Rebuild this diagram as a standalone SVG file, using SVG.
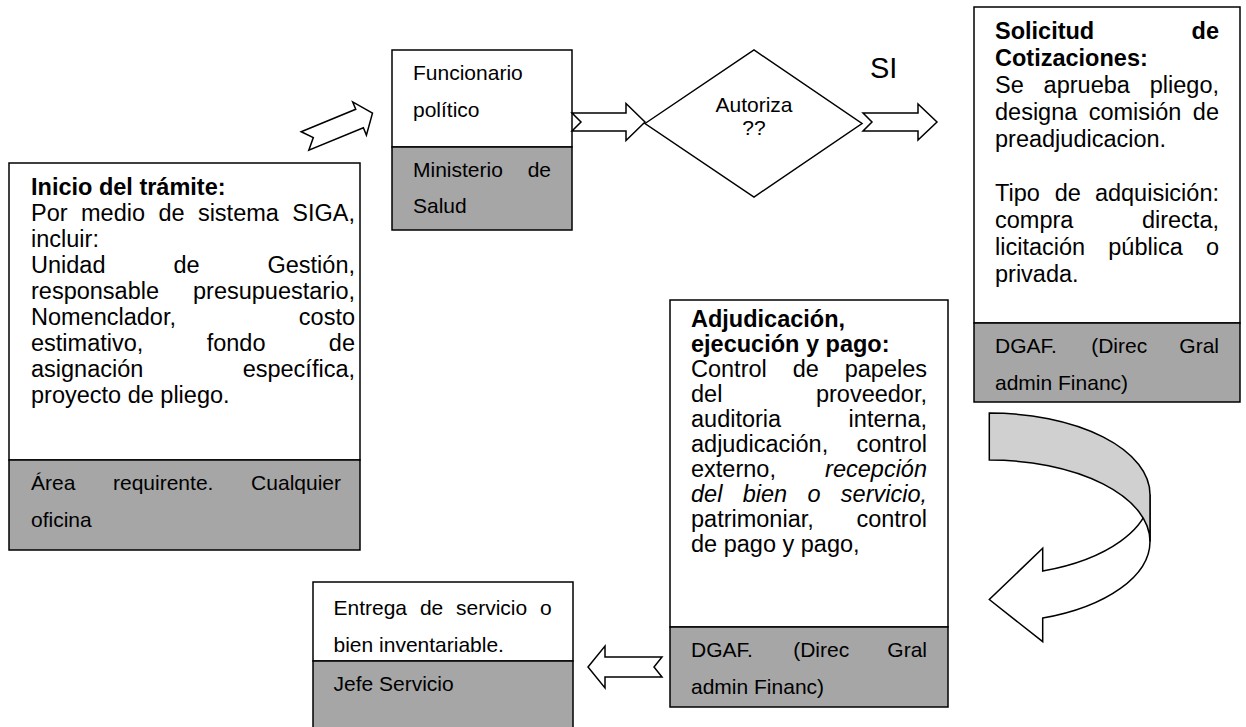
<svg xmlns="http://www.w3.org/2000/svg" width="1246" height="727" viewBox="0 0 1246 727">
<style>
.w{fill:#fff;stroke:#000;stroke-width:1.5}
.g{fill:#a6a6a6;stroke:#000;stroke-width:1.5}
.t{font-family:"Liberation Sans",Arial,sans-serif;font-size:23.5px;fill:#000}
.s{font-size:21px}
.b{font-weight:bold}
.i{font-style:italic}
.e{text-anchor:end}
.m{text-anchor:middle}
.ar{fill:#fff;stroke:#000;stroke-width:1.5;stroke-linejoin:miter}
</style>
<rect width="1246" height="727" fill="#fff"/>

<g id="inicio">
<rect class="w" x="9" y="163" width="351" height="297"/>
<rect class="g" x="9" y="460" width="351" height="90"/>
<text class="t b" x="31" y="195">Inicio del trámite:</text>
<text class="t" y="221"><tspan x="31">Por</tspan><tspan x="81">medio</tspan><tspan x="158.4">de</tspan><tspan x="197.9">sistema</tspan></text>
<text class="t e" x="355" y="221">SIGA,</text>
<text class="t" x="31" y="247">incluir:</text>
<text class="t" y="273"><tspan x="31">Unidad</tspan><tspan x="173.4">de</tspan></text>
<text class="t e" x="355" y="273">Gestión,</text>
<text class="t" x="31" y="299">responsable</text>
<text class="t e" x="355" y="299">presupuestario,</text>
<text class="t" x="31" y="325">Nomenclador,</text>
<text class="t e" x="355" y="325">costo</text>
<text class="t" y="351"><tspan x="31">estimativo,</tspan><tspan x="206.7">fondo</tspan></text>
<text class="t e" x="355" y="351">de</text>
<text class="t" x="31" y="377">asignación</text>
<text class="t e" x="355" y="377">específica,</text>
<text class="t" x="31" y="403">proyecto de pliego.</text>
<text class="t s" y="490"><tspan x="31">Área</tspan><tspan x="113">requirente.</tspan></text>
<text class="t s e" x="341" y="490">Cualquier</text>
<text class="t s" x="31" y="527">oficina</text>
</g>

<g id="funcionario">
<rect class="w" x="392" y="50" width="180" height="97"/>
<rect class="g" x="392" y="147" width="180" height="83"/>
<text class="t s" x="413" y="80">Funcionario</text>
<text class="t s" x="413" y="117">político</text>
<text class="t s" x="413" y="177">Ministerio</text>
<text class="t s e" x="551" y="177">de</text>
<text class="t s" x="413" y="213">Salud</text>
</g>

<g id="autoriza">
<polygon class="w" points="645,123.5 754,50 862,123.5 754,197"/>
<text class="t s m" x="754" y="112">Autoriza</text>
<text class="t s m" x="754" y="135">??</text>
</g>

<g id="solicitud">
<rect class="w" x="974" y="7" width="266" height="316"/>
<rect class="g" x="974" y="323" width="266" height="79"/>
<text class="t b" x="995" y="39">Solicitud</text>
<text class="t b e" x="1219" y="39">de</text>
<text class="t b" x="995" y="66">Cotizaciones:</text>
<text class="t" y="93"><tspan x="995">Se</tspan><tspan x="1043.6">aprueba</tspan></text>
<text class="t e" x="1219" y="93">pliego,</text>
<text class="t" y="120"><tspan x="995">designa</tspan><tspan x="1088.7">comisión</tspan></text>
<text class="t e" x="1219" y="120">de</text>
<text class="t" x="995" y="147">preadjudicacion.</text>
<text class="t" y="201"><tspan x="995">Tipo</tspan><tspan x="1054.8">de</tspan></text>
<text class="t e" x="1219" y="201">adquisición:</text>
<text class="t" x="995" y="228">compra</text>
<text class="t e" x="1219" y="228">directa,</text>
<text class="t" y="255"><tspan x="995">licitación</tspan><tspan x="1108.3">pública</tspan></text>
<text class="t e" x="1219" y="255">o</text>
<text class="t" x="995" y="282">privada.</text>
<text class="t s" y="353"><tspan x="995">DGAF.</tspan><tspan x="1091.2">(Direc</tspan></text>
<text class="t s e" x="1219" y="353">Gral</text>
<text class="t s" x="995" y="390">admin Financ)</text>
</g>

<g id="adjudicacion">
<rect class="w" x="670" y="300" width="278" height="327"/>
<rect class="g" x="670" y="627" width="278" height="80"/>
<text class="t b" x="691" y="327">Adjudicación,</text>
<text class="t b" x="691" y="352">ejecución y pago:</text>
<text class="t" y="377"><tspan x="691">Control</tspan><tspan x="792.7">de</tspan></text>
<text class="t e" x="927" y="377">papeles</text>
<text class="t" x="691" y="402">del</text>
<text class="t e" x="927" y="402">proveedor,</text>
<text class="t" x="691" y="427">auditoria</text>
<text class="t e" x="927" y="427">interna,</text>
<text class="t" x="691" y="452">adjudicación,</text>
<text class="t e" x="927" y="452">control</text>
<text class="t" x="691" y="477">externo,</text>
<text class="t i e" x="927" y="477">recepción</text>
<text class="t i" y="502"><tspan x="691">del</tspan><tspan x="742.7">bien</tspan><tspan x="807.4">o</tspan></text>
<text class="t i e" x="927" y="502">servicio,</text>
<text class="t" x="691" y="527">patrimoniar,</text>
<text class="t e" x="927" y="527">control</text>
<text class="t" x="691" y="552">de pago y pago,</text>
<text class="t s" y="657"><tspan x="691">DGAF.</tspan><tspan x="793.2">(Direc</tspan></text>
<text class="t s e" x="927" y="657">Gral</text>
<text class="t s" x="691" y="694">admin Financ)</text>
</g>

<g id="entrega">
<rect class="w" x="313" y="582" width="260" height="79"/>
<rect class="g" x="313" y="661" width="260" height="80"/>
<text class="t s" y="615"><tspan x="333.5">Entrega</tspan><tspan x="419.9">de</tspan><tspan x="456">servicio</tspan></text>
<text class="t s e" x="551.7" y="615">o</text>
<text class="t s" x="333.5" y="652">bien inventariable.</text>
<text class="t s" x="333.5" y="691">Jefe Servicio</text>
</g>

<g id="connectors">
<polygon class="ar" transform="translate(305,141) rotate(-22.4)" points="0,-10 59,-10 59,-18 73,0 59,18 59,10 0,10 9,0"/>
<polygon class="ar" points="572,113 626,113 626,103.5 645,122 626,140.5 626,131 572,131 581,122"/>
<polygon class="ar" points="863,113 918,113 918,104 937,122 918,140 918,131 863,131 872,122"/>
<text class="t" x="870" y="78" style="font-size:29px">SI</text>
<path class="ar" d="M1150,494.4 A161,81.4 0 0 1 1042.7,571 L1042.7,548.3 L989.3,599.5 L1042.7,641.7 L1042.7,618.1 A161,81.4 0 0 0 1150,541.4 Z"/>
<path d="M989.3,413 A161,81.4 0 0 1 1150,494.4 L1150,541.4 A161,81.4 0 0 0 989.3,460 Z" fill="#d0d0d0" stroke="#000" stroke-width="1.5"/>
<polygon class="ar" points="588,667 605,646 605,657 662,657 654,667 662,677 605,677 605,688"/>
</g>
</svg>
